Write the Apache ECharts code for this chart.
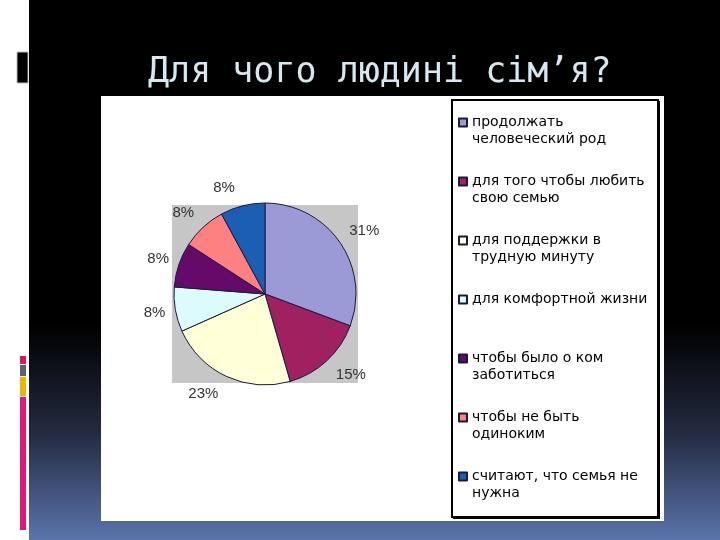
<!DOCTYPE html>
<html>
<head>
<meta charset="utf-8">
<script src="https://cdn.jsdelivr.net/npm/echarts@6/dist/echarts.min.js"></script>
<style>
  html, body { margin: 0; padding: 0; background: #fff; }
  #main { width: 720px; height: 540px; }
</style>
</head>
<body>
<div id="main"></div>
<script>
// data
var title = "Для чого людині сім’я?";
var categories = [
  "продолжать\nчеловеческий род",
  "для того чтобы любить\nсвою семью",
  "для поддержки в\nтрудную минуту",
  "для комфортной жизни",
  "чтобы было о ком\nзаботиться",
  "чтобы не быть\nодиноким",
  "считают, что семья не\nнужна"
];
var values = [31, 15, 23, 8, 8, 8, 8];
var colors = ["#9b99d6", "#a0215f", "#ffffd8", "#dcfcfc", "#660a6a", "#ff8080", "#1a5fb4"];

var chart = echarts.init(document.getElementById("main"));

var pieCenter = [265, 294];

var option = {
  backgroundColor: "#fff",
  animation: false,
  color: colors,
  graphic: [
    // slide background
    {
      type: "rect",
      shape: { x: 29, y: 0, width: 691, height: 540 },
      style: {
        fill: {
          type: "linear", x: 0, y: 0, x2: 0, y2: 1,
          colorStops: [
            { offset: 0, color: "#000" },
            { offset: 0.6, color: "#000" },
            { offset: 0.8, color: "#232a40" },
            { offset: 1, color: "#5b74ac" }
          ]
        }
      }
    },
    // left decorations
    { type: "rect", shape: { x: 17, y: 52, width: 11, height: 31 }, style: { fill: "#000", stroke: "#bbb", lineWidth: 1 } },
    { type: "rect", shape: { x: 20, y: 356, width: 6, height: 8 }, style: { fill: "#d81b60" } },
    { type: "rect", shape: { x: 20, y: 365, width: 6, height: 11 }, style: { fill: "#5a6470" } },
    { type: "rect", shape: { x: 20, y: 377, width: 6, height: 19 }, style: { fill: "#f0b400" } },
    { type: "rect", shape: { x: 20, y: 397, width: 6, height: 133 }, style: { fill: "#e0187a" } },
    // title
    {
      type: "text",
      x: 148, y: 73,
      style: {
        text: title,
        fill: "#d8e8f0",
        font: "35px 'DejaVu Sans Mono'",
        verticalAlign: "middle"
      }
    },
    // white chart panel
    { type: "rect", shape: { x: 101, y: 96, width: 563, height: 425 }, style: { fill: "#fff" } },
    // plot area
    { type: "rect", shape: { x: 172, y: 205, width: 186, height: 178 }, style: { fill: "#c6c6c6" } },
    // legend box
    { type: "rect", shape: { x: 452, y: 100, width: 206, height: 417 }, style: { fill: "none", stroke: "#000", lineWidth: 2 } },
    { type: "rect", shape: { x: 658, y: 101, width: 2, height: 418 }, style: { fill: "#000" } },
    { type: "rect", shape: { x: 453, y: 517, width: 207, height: 2 }, style: { fill: "#000" } }
  ],
  legend: {
    orient: "vertical",
    left: 458,
    top: 97,
    padding: 0,
    itemWidth: 8,
    itemHeight: 8,
    itemGap: 8,
    icon: "rect",
    formatter: function (name) {
      // blank first line keeps the marker level with the first text line
      return " \n" + (name.indexOf("\n") < 0 ? name + "\n " : name);
    },
    textStyle: {
      fontFamily: "DejaVu Sans",
      fontSize: 14,
      color: "#000",
      lineHeight: 17
    }
  },
  series: [
    {
      type: "pie",
      center: pieCenter,
      radius: 91,
      startAngle: 90,
      clockwise: true,
      itemStyle: { borderColor: "#1a1a3a", borderWidth: 1 },
      label: {
        show: true,
        position: "outside",
        formatter: "{c}%",
        fontFamily: "Liberation Sans",
        fontSize: 15,
        color: "#333"
      },
      labelLine: { show: false, length: 3, length2: 2 },
      labelLayout: function (p) {
        var cy = p.labelRect.y + p.labelRect.height / 2;
        return { dy: 0.17 * (cy - pieCenter[1]) };
      },
      emphasis: { disabled: true },
      data: categories.map(function (c, i) {
        return { name: c, value: values[i] };
      })
    }
  ]
};

chart.setOption(option);
</script>
</body>
</html>
